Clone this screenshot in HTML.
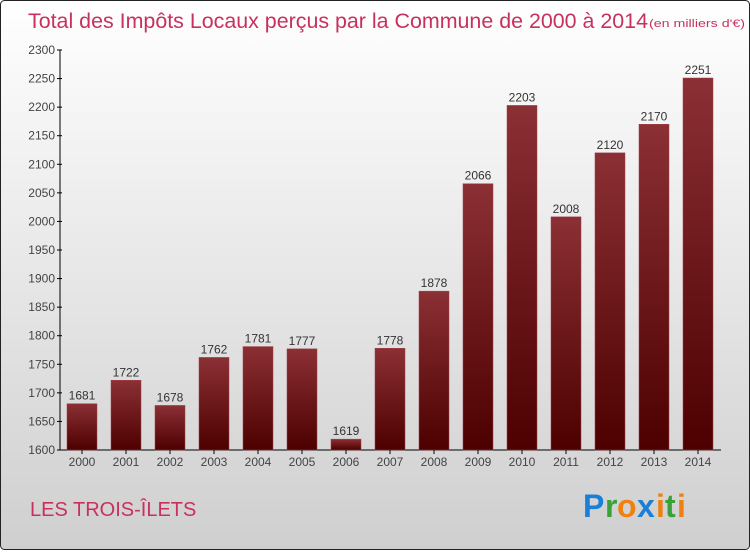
<!DOCTYPE html>
<html><head><meta charset="utf-8"><style>
body{margin:0;width:750px;height:550px;overflow:hidden}
svg text{font-family:"Liberation Sans",sans-serif}
</style></head><body>
<svg width="750" height="550" xmlns="http://www.w3.org/2000/svg">
<defs>
<linearGradient id="bg" x1="0" y1="0" x2="0" y2="1"><stop offset="0" stop-color="#ffffff"/><stop offset="1" stop-color="#cfcfcf"/></linearGradient>
<linearGradient id="bar" x1="0" y1="0" x2="0" y2="1"><stop offset="0" stop-color="#8b3035"/><stop offset="1" stop-color="#4d0000"/></linearGradient>
</defs>
<rect x="0.5" y="0.5" width="749" height="549" rx="4" fill="url(#bg)" stroke="#222"/>
<text x="28" y="28" font-size="21" fill="#c8315e" textLength="620" lengthAdjust="spacingAndGlyphs">Total des Impôts Locaux perçus par la Commune de 2000 à 2014</text>
<text x="649" y="27" font-size="11" fill="#c8315e" textLength="96" lengthAdjust="spacingAndGlyphs">(en milliers d'€)</text>
<g id="axes"></g>
<g id="bars"></g>
<text x="30" y="516" font-size="20" fill="#c8315e">LES TROIS-ÎLETS</text>
<g font-size="32" font-weight="bold">
<text x="583" y="517" fill="#1a7fd6">P</text><text x="605" y="517" fill="#3aa03a">r</text><text x="617" y="517" fill="#f08010">o</text><text x="637" y="517" fill="#1a7fd6">x</text><text x="656" y="517" fill="#f08010">i</text><text x="665" y="517" fill="#3aa03a">t</text><text x="677" y="517" fill="#f08010">i</text>
</g>
</svg>
<script>
const years=["2000","2001","2002","2003","2004","2005","2006","2007","2008","2009","2010","2011","2012","2013","2014"];
const values=[1681,1722,1678,1762,1781,1777,1619,1778,1878,2066,2203,2008,2120,2170,2251];
const yTicks=[1600,1650,1700,1750,1800,1850,1900,1950,2000,2050,2100,2150,2200,2250,2300];
const NS="http://www.w3.org/2000/svg";
const y0=450,y1=50,vMin=1600,vMax=2300;
function yS(v){return y0-(v-vMin)/(vMax-vMin)*(y0-y1);}
function xC(i){return 82+i*44;}
function mk(t,a,p){const e=document.createElementNS(NS,t);for(const k in a)e.setAttribute(k,a[k]);p.appendChild(e);return e;}
const ax=document.getElementById('axes'),bg=document.getElementById('bars');
let l=mk('line',{x1:60,y1:y1,x2:60,y2:y0,stroke:'#000'},ax);


l=mk('line',{x1:60,y1:y0,x2:721,y2:y0,stroke:'#000'},ax);


yTicks.forEach(v=>{const y=yS(v);
 const tk=mk('line',{x1:57,y1:y,x2:62,y2:y,stroke:'#000'},ax);
 
 
 const t=mk('text',{x:55,y:y+4,'text-anchor':'end','font-size':12,fill:'#444'},ax);t.textContent=v;
 
 
});
years.forEach((yr,i)=>{const x=xC(i),top=yS(values[i]);
 const r=mk('rect',{x:x-15,y:top,width:30,height:y0-top,fill:'url(#bar)',stroke:'#a04048','stroke-width':0.5},bg);
 
 
 const v=mk('text',{x:x,y:top-4,'text-anchor':'middle','font-size':12,fill:'#333'},bg);v.textContent=values[i];
 
 
 const tk=mk('line',{x1:x,y1:y0,x2:x,y2:y0+4,stroke:'#000'},ax);
 
 
 const t=mk('text',{x:x,y:y0+16,'text-anchor':'middle','font-size':12,fill:'#444'},ax);t.textContent=yr;
 
 
});
</script>
</body></html>
